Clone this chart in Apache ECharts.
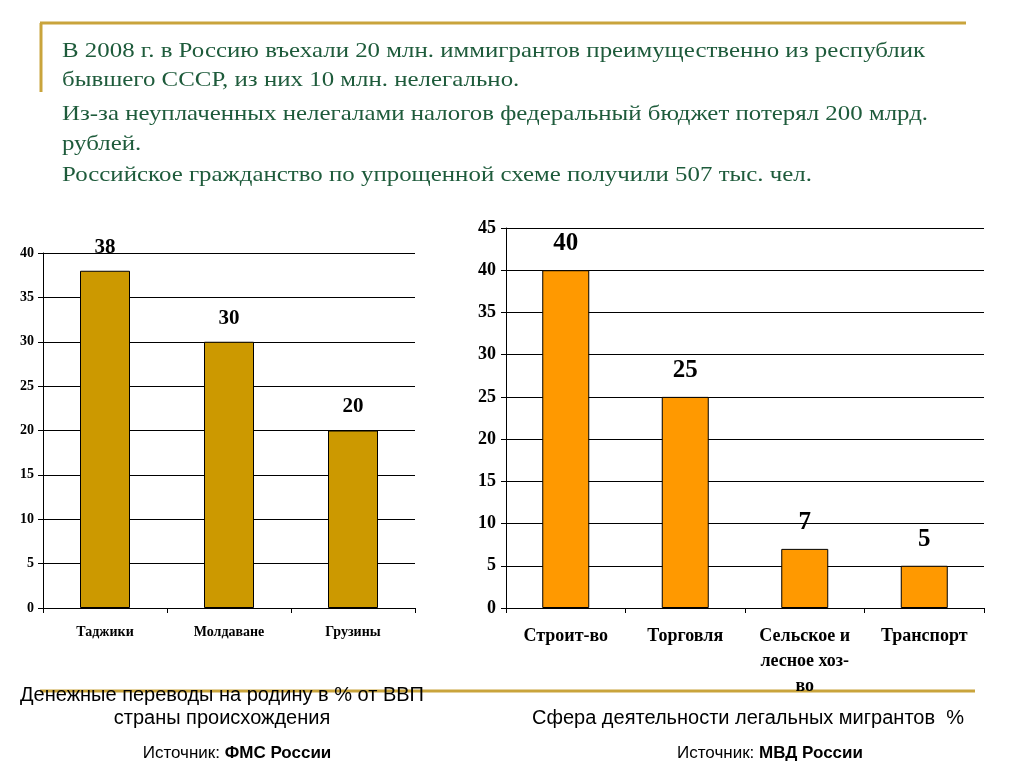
<!DOCTYPE html>
<html>
<head>
<meta charset="utf-8">
<script src="https://cdn.jsdelivr.net/npm/echarts@6/dist/echarts.min.js"></script>
<style>
html,body{margin:0;padding:0;background:#fff;}
#main{width:1024px;height:767px;}
</style>
</head>
<body>
<div id="main"></div>
<script>
// ---- data ----
const leftCategories = ['Таджики', 'Молдаване', 'Грузины'];
const leftValues = [38, 30, 20];
const rightCategories = ['Строит-во', 'Торговля', 'Сельское и\nлесное хоз-\nво', 'Транспорт'];
const rightValues = [40, 25, 7, 5];
const headerLines = [
  'В 2008 г. в Россию въехали 20 млн. иммигрантов преимущественно из республик',
  'бывшего СССР, из них 10 млн. нелегально.',
  'Из-за неуплаченных нелегалами налогов федеральный бюджет потерял 200 млрд.',
  'рублей.',
  'Российское гражданство по упрощенной схеме получили 507 тыс. чел.'
];
const leftCaption = ['Денежные переводы на родину в % от ВВП', 'страны происхождения'];
const rightCaption = 'Сфера деятельности легальных мигрантов  %';
const leftSource = 'ФМС России';
const rightSource = 'МВД России';

const serif = '"Liberation Serif", "DejaVu Serif", serif';
const narrow = '"Liberation Sans Narrow", "Liberation Sans", Arial, sans-serif';
const gold = '#c9a43c';
const green = '#1e5b3b';

const chart = echarts.init(document.getElementById('main'), null, {renderer: 'canvas'});

const headerY = [51, 80, 114, 144, 175];
const graphics = [
  {type: 'line', shape: {x1: 40, y1: 23, x2: 966, y2: 23}, style: {stroke: gold, lineWidth: 3}, z: 0},
  {type: 'line', shape: {x1: 41, y1: 23, x2: 41, y2: 92}, style: {stroke: gold, lineWidth: 3}, z: 0},
  {type: 'line', shape: {x1: 40, y1: 691, x2: 975, y2: 691}, style: {stroke: gold, lineWidth: 3}, z: 0}
];
headerLines.forEach((t, i) => {
  graphics.push({type: 'text', x: 62, y: headerY[i], scaleX: 1.185, z: 10,
    style: {text: t, fill: green, font: '21px ' + serif, textAlign: 'left', textVerticalAlign: 'middle'}});
});
graphics.push({type: 'text', z: 10, style: {text: leftCaption[0], x: 222, y: 695, fill: '#000', font: '20px ' + narrow, textAlign: 'center', textVerticalAlign: 'middle'}});
graphics.push({type: 'text', z: 10, style: {text: leftCaption[1], x: 222, y: 718, fill: '#000', font: '20px ' + narrow, textAlign: 'center', textVerticalAlign: 'middle'}});
graphics.push({type: 'text', z: 10, style: {text: rightCaption, x: 748, y: 718, fill: '#000', font: '20px ' + narrow, textAlign: 'center', textVerticalAlign: 'middle'}});
function src(x, name) {
  return {type: 'text', z: 10, style: {
    x: x, y: 753, textAlign: 'center', textVerticalAlign: 'middle',
    text: '{n|Источник: }{b|' + name + '}',
    rich: {
      n: {fontFamily: narrow, fontSize: 17, fill: '#000', color: '#000'},
      b: {fontFamily: narrow, fontSize: 17, fontWeight: 'bold', fill: '#000', color: '#000'}
    }
  }};
}
graphics.push(src(237, leftSource));
graphics.push(src(770, rightSource));

const axisLabelCommon = {fontFamily: serif, fontWeight: 'bold', color: '#000'};

chart.setOption({
  animation: false,
  backgroundColor: '#fff',
  graphic: graphics,
  grid: [
    {left: 43, right: 1024 - 415, top: 253, bottom: 767 - 608},
    {left: 506, right: 1024 - 984, top: 228, bottom: 767 - 608}
  ],
  xAxis: [
    {type: 'category', gridIndex: 0, data: leftCategories,
     axisLine: {show: true, lineStyle: {color: '#000', width: 1}},
     axisTick: {show: true, length: 5, lineStyle: {color: '#000'}},
     axisLabel: Object.assign({}, axisLabelCommon, {fontSize: 14, margin: 17})},
    {type: 'category', gridIndex: 1, data: rightCategories,
     axisLine: {show: true, lineStyle: {color: '#000', width: 1}},
     axisTick: {show: true, length: 5, lineStyle: {color: '#000'}},
     axisLabel: Object.assign({}, axisLabelCommon, {fontSize: 18, margin: 16, lineHeight: 25, verticalAlign: 'top'})}
  ],
  yAxis: [
    {type: 'value', gridIndex: 0, min: 0, max: 40, interval: 5,
     axisLine: {show: true, lineStyle: {color: '#000', width: 1}},
     axisTick: {show: true, length: 5, lineStyle: {color: '#000'}},
     splitLine: {show: true, lineStyle: {color: '#000', width: 1}},
     axisLabel: Object.assign({}, axisLabelCommon, {fontSize: 14, margin: 9})},
    {type: 'value', gridIndex: 1, min: 0, max: 45, interval: 5,
     axisLine: {show: true, lineStyle: {color: '#000', width: 1}},
     axisTick: {show: true, length: 5, lineStyle: {color: '#000'}},
     splitLine: {show: true, lineStyle: {color: '#000', width: 1.2}},
     axisLabel: Object.assign({}, axisLabelCommon, {fontSize: 18, margin: 10})}
  ],
  series: [
    {type: 'bar', xAxisIndex: 0, yAxisIndex: 0, data: leftValues, barWidth: 50,
     itemStyle: {color: '#cc9900', borderColor: '#000', borderWidth: 1},
     label: {show: true, position: 'top', distance: 13, fontFamily: serif, fontWeight: 'bold', fontSize: 21, color: '#000'}},
    {type: 'bar', xAxisIndex: 1, yAxisIndex: 1, data: rightValues, barWidth: 47,
     itemStyle: {color: '#ff9900', borderColor: '#000', borderWidth: 1},
     label: {show: true, position: 'top', distance: 14, fontFamily: serif, fontWeight: 'bold', fontSize: 25, color: '#000'}}
  ]
});
</script>
</body>
</html>
